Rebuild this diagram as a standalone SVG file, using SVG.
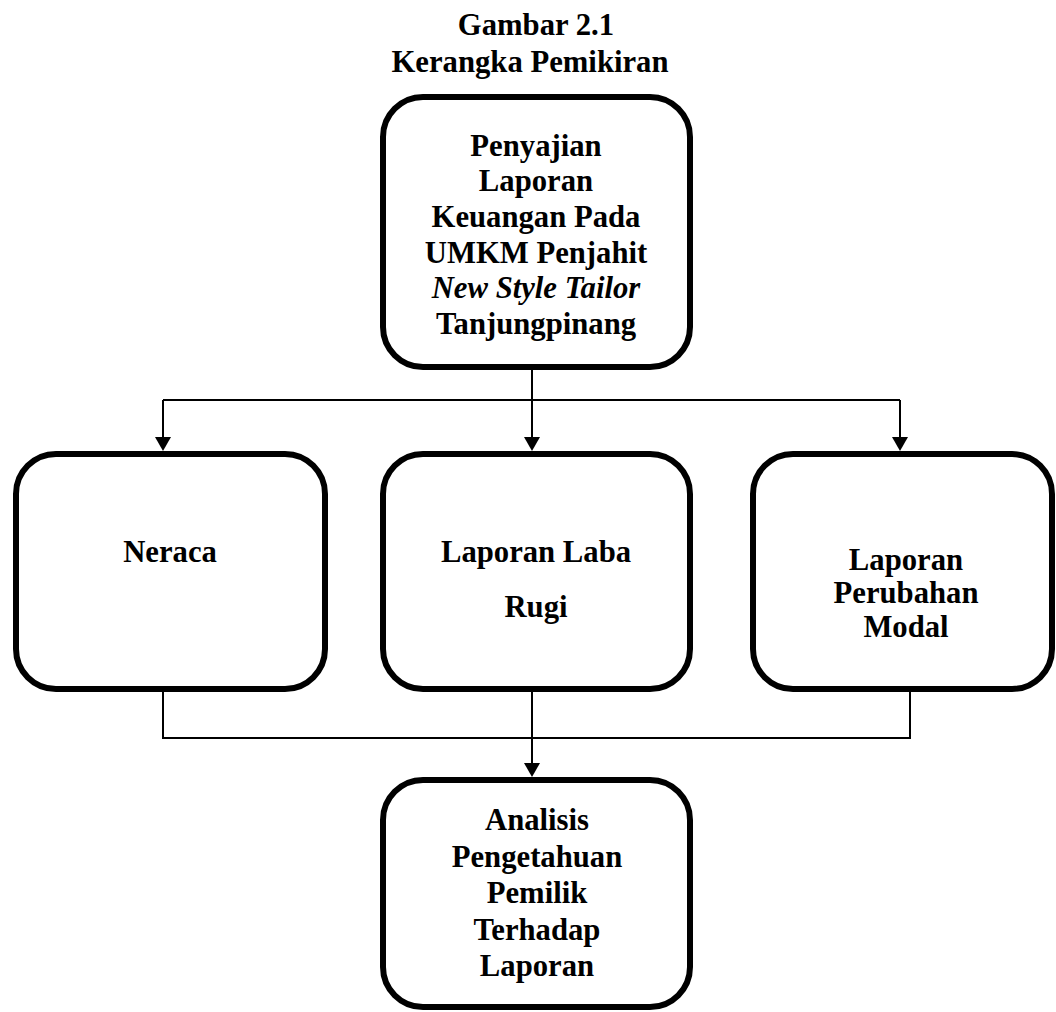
<svg xmlns="http://www.w3.org/2000/svg" width="1056" height="1012" viewBox="0 0 1056 1012">
<defs>
<style>
.box{fill:#fff;stroke:#000;stroke-width:6}
.t{font-family:"Liberation Serif","Times New Roman",serif;font-weight:bold;font-size:30.7px;text-anchor:middle;fill:#000}
.i{font-style:italic}
.c{fill:none;stroke:#000;stroke-width:2}
.a{fill:#000}
</style>
</defs>
<rect width="1056" height="1012" fill="#fff"/>
<g id="title">
<text class="t" x="536" y="35">Gambar 2.1</text>
<text class="t" x="530" y="72">Kerangka Pemikiran</text>
</g>
<g id="connectors">
<path class="c" d="M532,370 L532,437"/>
<path class="a" d="M524,437 L540,437 L532,451 Z"/>
<path class="c" d="M163,400 L900,400"/>
<path class="c" d="M163,400 L163,437"/>
<path class="a" d="M155,437 L171,437 L163,451 Z"/>
<path class="c" d="M900,400 L900,437"/>
<path class="a" d="M892,437 L908,437 L900,451 Z"/>
<path class="c" d="M163,692 L163,738 L910,738 L910,692"/>
<path class="c" d="M532,692 L532,763"/>
<path class="a" d="M524,763 L540,763 L532,777 Z"/>
</g>
<g id="node-top">
<rect class="box" x="383" y="97" width="307" height="270" rx="40"/>
<text class="t" x="536" y="156">Penyajian</text>
<text class="t" x="536" y="191">Laporan</text>
<text class="t" x="536" y="227">Keuangan Pada</text>
<text class="t" x="536" y="263">UMKM Penjahit</text>
<text class="t i" x="536" y="298">New Style Tailor</text>
<text class="t" x="536" y="334">Tanjungpinang</text>
</g>
<g id="node-neraca">
<rect class="box" x="16" y="454" width="309" height="235" rx="40"/>
<text class="t" x="170" y="562">Neraca</text>
</g>
<g id="node-labarugi">
<rect class="box" x="383" y="454" width="307" height="235" rx="40"/>
<text class="t" x="536" y="562">Laporan Laba</text>
<text class="t" x="536" y="617">Rugi</text>
</g>
<g id="node-modal">
<rect class="box" x="753" y="454" width="299" height="235" rx="40"/>
<text class="t" x="906" y="570">Laporan</text>
<text class="t" x="906" y="603">Perubahan</text>
<text class="t" x="906" y="637">Modal</text>
</g>
<g id="node-analisis">
<rect class="box" x="383" y="780" width="307" height="227" rx="40"/>
<text class="t" x="537" y="830">Analisis</text>
<text class="t" x="537" y="867">Pengetahuan</text>
<text class="t" x="537" y="903">Pemilik</text>
<text class="t" x="537" y="940">Terhadap</text>
<text class="t" x="537" y="976">Laporan</text>
</g>
</svg>
